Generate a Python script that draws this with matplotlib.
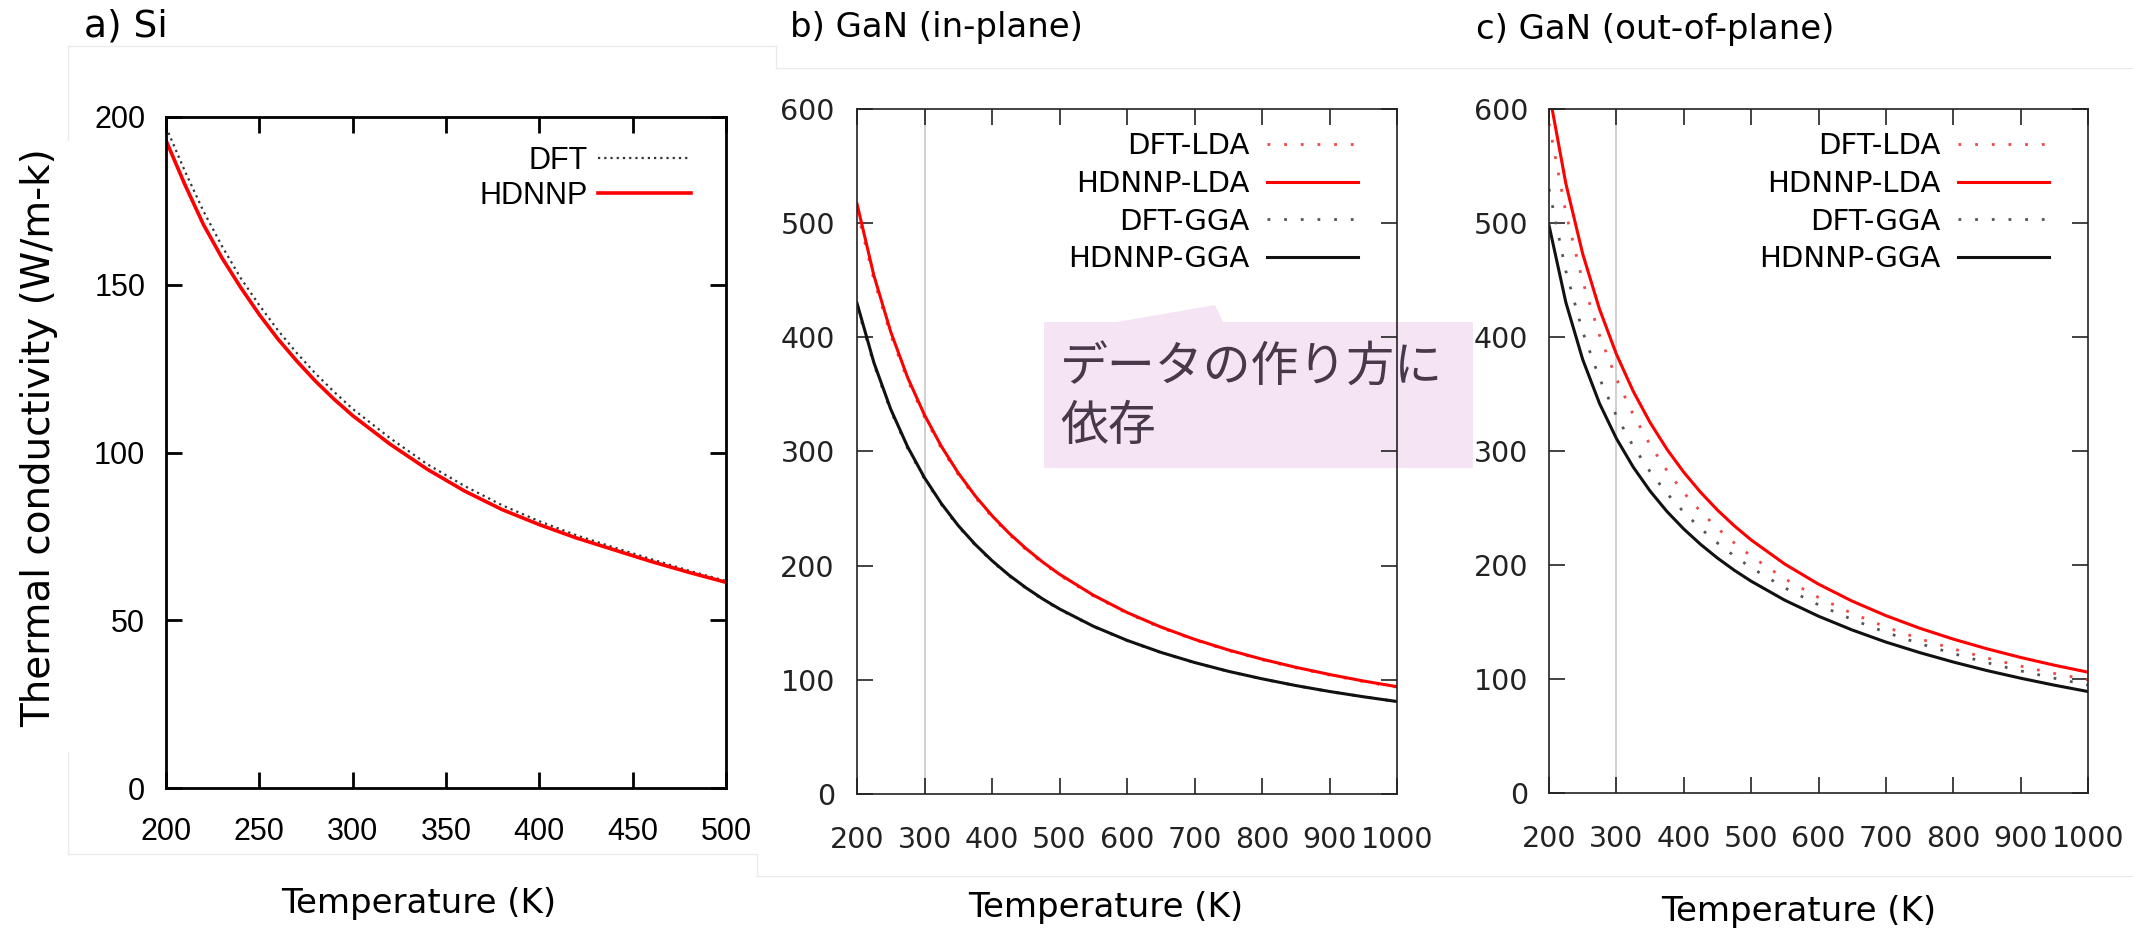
import matplotlib.pyplot as plt
from matplotlib.patches import Polygon
from matplotlib.lines import Line2D

W, H = 2133, 932


def fx(x):
    return x / W


def fy(y):
    return 1 - y / H


def box(l, t, r, b):
    return [fx(l), fy(b), (r - l) / W, (b - t) / H]


# a) Si
si_T = [200, 210, 220, 230, 240, 250, 260, 270, 280, 290, 300, 320, 340, 360, 380, 400, 420, 440, 460, 480, 500]
si_dft = [197, 184, 172, 161.5, 152, 143.9, 136.4, 129.7, 123.6, 118.1, 113, 104.3, 96.5, 90, 84.3, 79.5,
          75.3, 71.7, 68.2, 64.8, 61.7]
si_hdnnp = [193, 180, 168, 158, 149.2, 141.1, 133.8, 127.3, 121.3, 115.9, 111, 102.5, 95, 88.5, 83, 78.5,
            74.5, 71, 67.5, 64.3, 61.3]

# b) GaN in-plane / c) GaN out-of-plane
gan_T = [200, 225, 250, 275, 300, 325, 350, 375, 400, 425, 450, 475, 500,
         550, 600, 650, 700, 750, 800, 850, 900, 950, 1000]
inp_dft_lda = [512, 450.4, 401.8, 362.4, 330.0, 302.8, 279.8, 260.0, 242.7, 227.6, 214.3, 202.4, 191.7,
               173.5, 158.4, 145.7, 135.0, 125.7, 117.6, 110.5, 104.2, 98.5, 93.5]
inp_hdnnp_lda = [517, 454.2, 404.8, 364.8, 332.0, 304.5, 281.2, 261.2, 243.8, 228.6, 215.2, 203.2, 192.5,
                 174.2, 159.0, 146.3, 135.5, 126.2, 118.1, 111.0, 104.7, 99.0, 94.0]
inp_dft_gga = [428, 376.3, 335.6, 302.9, 276.0, 253.6, 234.4, 218.1, 203.8, 191.3, 180.4, 170.5, 161.7,
               146.7, 134.4, 123.9, 115.1, 107.4, 100.8, 94.9, 89.7, 85.2, 81.0]
inp_hdnnp_gga = [430, 377.9, 337.0, 304.1, 277.0, 254.4, 235.1, 218.7, 204.4, 191.8, 180.8, 170.9, 162.1,
                 147.0, 134.6, 124.1, 115.2, 107.5, 100.9, 95.0, 89.8, 85.2, 81.0]

out_dft_lda = [587.3, 508.9, 448.9, 401.5, 363.4, 332.0, 305.5, 282.9, 263.4, 246.9, 232.3, 219.4, 207.8,
               187.9, 171.5, 157.5, 145.6, 135.3, 126.4, 118.4, 111.3, 104.9, 99.2]
out_hdnnp_lda = [615, 534.6, 473.0, 424.4, 385.0, 352.4, 325.0, 301.6, 281.4, 263.8, 248.2, 234.4, 222.0,
                 200.8, 183.2, 168.3, 155.6, 144.6, 135.0, 126.5, 118.9, 112.1, 106.0]
out_dft_gga = [529.9, 457.9, 404.6, 363.6, 330.9, 304.2, 281.9, 262.8, 246.4, 232.1, 219.3, 207.9, 197.7,
               179.9, 165.0, 152.2, 140.9, 131.1, 122.3, 114.3, 107.1, 100.7, 94.7]
out_hdnnp_gga = [498, 430.4, 380.3, 341.7, 311.0, 285.9, 264.9, 247.0, 231.6, 218.1, 206.1, 195.4, 185.8,
                 169.1, 155.1, 143.0, 132.4, 123.2, 114.9, 107.4, 100.7, 94.6, 89.0]

fig = plt.figure(figsize=(W / 100, H / 100), dpi=100)

# faint screenshot borders
border = '#ebebeb'
for xs, ys in [([68, 776], [46, 46]), ([68, 68], [46, 140]), ([68, 68], [752, 854]),
               ([68, 757], [854, 854]), ([757, 757], [854, 876]), ([757, 2133], [876, 876]),
               ([776, 2133], [68, 68]), ([776, 776], [46, 68])]:
    fig.add_artist(Line2D([fx(v) for v in xs], [fy(v) for v in ys], color=border, lw=1,
                          transform=fig.transFigure))

# ---- a) Si
ax = fig.add_axes(box(166, 117, 726, 788))
ax.plot(si_T, si_dft, color='#333333', lw=1.6, ls=(0, (1, 1.8)), label='DFT')
ax.plot(si_T, si_hdnnp, color='#ff0000', lw=2.6, label='HDNNP')
ax.set_xlim(200, 500)
ax.set_ylim(0, 200)
ax.set_xticks(range(200, 501, 50))
ax.set_yticks(range(0, 201, 50))
for s in ax.spines.values():
    s.set_linewidth(2)
ax.tick_params(direction='in', top=True, right=True, length=11.5, width=2,
               labelsize=22, colors='black')
ax.tick_params(axis='x', pad=21)
ax.tick_params(axis='y', pad=15)
for lab in ax.get_xticklabels() + ax.get_yticklabels():
    lab.set_family('Liberation Sans')
ax.legend(loc='upper right', bbox_to_anchor=(0.9375, 0.957), borderaxespad=0, borderpad=0,
          frameon=False, markerfirst=False, handlelength=3.04, handletextpad=0.33,
          labelspacing=0.16, prop={'family': 'Liberation Sans', 'size': 22})

# ---- b) and c) GaN
panels = [
    (box(857, 109, 1397, 794), inp_dft_lda, inp_hdnnp_lda, inp_dft_gga, inp_hdnnp_gga, 16),
    (box(1549, 109, 2088, 793), out_dft_lda, out_hdnnp_lda, out_dft_gga, out_hdnnp_gga, 15),
]
for rect, d_lda, h_lda, d_gga, h_gga, ypad in panels:
    ax = fig.add_axes(rect)
    ax.set_facecolor('none')
    ax.axvline(300, color='#c8c8c8', lw=1.2, zorder=0.5)
    ax.plot(gan_T, d_lda, color='#f04848', lw=2, ls=(0, (1, 5)), label='DFT-LDA')
    ax.plot(gan_T, h_lda, color='#ff0000', lw=2.2, label='HDNNP-LDA')
    ax.plot(gan_T, d_gga, color='#555555', lw=2, ls=(0, (1, 5)), label='DFT-GGA')
    ax.plot(gan_T, h_gga, color='#111111', lw=2.2, label='HDNNP-GGA')
    ax.set_xlim(200, 1000)
    ax.set_ylim(0, 600)
    ax.set_xticks(range(200, 1001, 100))
    ax.set_yticks(range(0, 601, 100))
    for s in ax.spines.values():
        s.set_linewidth(1.2)
        s.set_color('#222222')
    ax.tick_params(direction='in', top=True, right=True, length=11.5, width=1.2,
                   labelsize=20.5, colors='#222222')
    ax.tick_params(axis='x', pad=23)
    ax.tick_params(axis='y', pad=ypad)
    ax.legend(loc='upper right', bbox_to_anchor=(0.928, 0.966), borderaxespad=0, borderpad=0,
              frameon=False, markerfirst=False, handlelength=3.12, handletextpad=0.62,
              labelspacing=0.33, prop={'family': 'DejaVu Sans', 'size': 21})

# titles and axis labels
fig.text(fx(84), fy(26), 'a) Si', fontsize=27, va='center', ha='left')
fig.text(fx(790), fy(28), 'b) GaN (in-plane)', fontsize=24.5, va='center', ha='left')
fig.text(fx(1476), fy(30), 'c) GaN (out-of-plane)', fontsize=24.5, va='center', ha='left')
fig.text(fx(419), fy(903), 'Temperature (K)', fontsize=24.5, va='center', ha='center')
fig.text(fx(1106), fy(908), 'Temperature (K)', fontsize=24.5, va='center', ha='center')
fig.text(fx(1799), fy(912), 'Temperature (K)', fontsize=24.5, va='center', ha='center')
fig.text(fx(39), fy(438), 'Thermal conductivity (W/m-k)', fontsize=28, rotation=90,
         va='center', ha='center')

# callout note
note = Polygon([(fx(1044), fy(322)), (fx(1117), fy(322)), (fx(1215), fy(305)), (fx(1223), fy(322)),
                (fx(1473), fy(322)), (fx(1473), fy(468)), (fx(1044), fy(468))],
               closed=True, transform=fig.transFigure, facecolor='#f5e4f3', edgecolor='none',
               zorder=-1)
fig.patches.append(note)
fig.text(fx(1060), fy(382), 'データの作り方に', fontsize=34.5, color='#47384a',
         family=['Noto Sans CJK JP', 'DejaVu Sans'], va='baseline', ha='left')
fig.text(fx(1060), fy(440), '依存', fontsize=34.5, color='#47384a',
         family=['Noto Sans CJK JP', 'DejaVu Sans'], va='baseline', ha='left')

fig.savefig('out.png', dpi=100)
